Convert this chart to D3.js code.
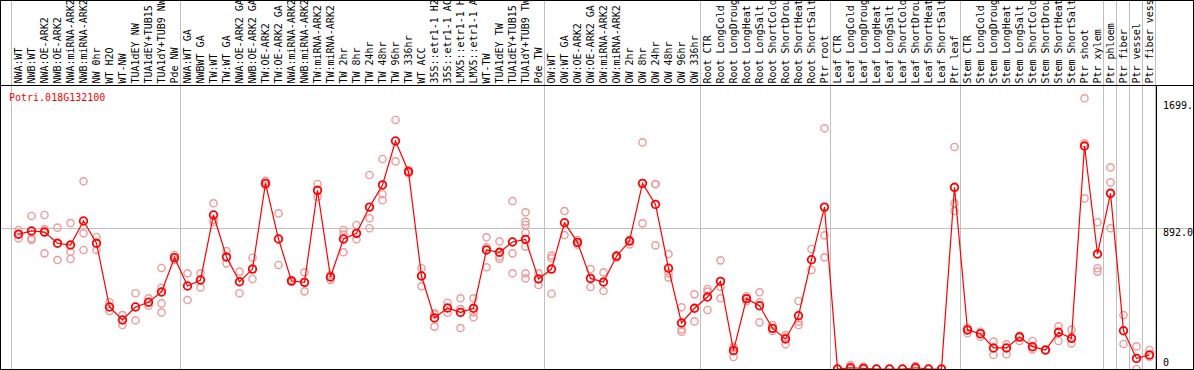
<!DOCTYPE html>
<html>
<head>
<meta charset="utf-8">
<script src="https://cdn.jsdelivr.net/npm/d3@7"></script>
<style>
  body { margin: 0; background: #fff; }
  svg { display: block; }
</style>
</head>
<body>
<svg id="chart"></svg>
<script>
const geneName = 'Potri.018G132100';

const samples = [
    'NWA:WT', 'NWB:WT', 'NWA:OE-ARK2', 'NWB:OE-ARK2', 'NWA:miRNA-ARK2', 'NWB:miRNA-ARK2',
    'NW 0hr', 'WT H2O', 'WT-NW', 'TUA1dEY NW', 'TUA1dEY+TUB15', 'TUA1dY+TUB9 NW', 'Pde NW',
    'NWA:WT GA', 'NWBWT GA', 'TW:WT', 'TW:WT GA', 'NWA:OE-ARK2 GA', 'NWB:OE-ARK2 GA',
    'TW:OE-ARK2', 'TW:OE-ARK2 GA', 'NWA:miRNA-ARK2', 'NWB:miRNA-ARK2', 'TW:miRNA-ARK2',
    'TW:miRNA-ARK2', 'TW 2hr', 'TW 8hr', 'TW 24hr', 'TW 48hr', 'TW 96hr', 'TW 336hr',
    'WT ACC', '35S::etr1-1 H2O', '35S::etr1-1 ACC', 'LMX5::etr1-1 H2O', 'LMX5::etr1-1 ACC',
    'WT-TW', 'TUA1dEY TW', 'TUA1dEY+TUB15 TW', 'TUA1dY+TUB9 TW', 'Pde TW',
    'OW:WT', 'OW:WT GA', 'OW:OE-ARK2', 'OW:OE-ARK2 GA', 'OW:miRNA-ARK2', 'OW:miRNA-ARK2',
    'OW 2hr', 'OW 8hr', 'OW 24hr', 'OW 48hr', 'OW 96hr', 'OW 336hr',
    'Root CTR', 'Root LongCold', 'Root LongDrought', 'Root LongHeat', 'Root LongSalt',
    'Root ShortCold', 'Root ShortDrought', 'Root ShortHeat', 'Root ShortSalt', 'Ptr root',
    'Leaf CTR', 'Leaf LongCold', 'Leaf LongDrought', 'Leaf LongHeat', 'Leaf LongSalt',
    'Leaf ShortCold', 'Leaf ShortDrought', 'Leaf ShortHeat', 'Leaf ShortSalt', 'Ptr leaf',
    'Stem CTR', 'Stem LongCold', 'Stem LongDrought', 'Stem LongHeat', 'Stem LongSalt',
    'Stem ShortCold', 'Stem ShortDrought', 'Stem ShortHeat', 'Stem ShortSalt', 'Ptr shoot',
    'Ptr xylem', 'Ptr phloem', 'Ptr fiber', 'Ptr vessel', 'Ptr fiber vessel'
];

// first sample index of each group
const groupStarts = [0, 13, 41, 53, 63, 73, 84, 85, 86, 87, 88];

const means = [
    852, 873, 866, 795, 784, 936, 795, 392, 310, 392, 422, 487, 704,
    525, 563, 974, 708, 552, 632, 1174, 822, 557, 548, 1130, 582, 822, 858, 1024, 1164, 1442,
    1248, 588, 323, 386, 358, 384, 753, 738, 803, 820, 569,
    632, 925, 801, 573, 550, 713, 809, 1174, 1041, 637, 291, 384,
    455, 554, 116, 445, 400, 257, 190, 337, 691, 1024,
    0, 8, 4, 0, 0, 0, 8, 0, 0, 1149,
    247, 223, 133, 133, 202, 141, 120, 232, 194, 1410, 727,
    1111, 242, 67, 89
];

const replicates = [
    [879, 852, 826], [968, 826, 816], [974, 885, 731], [894, 689], [923, 742, 696],
    [1187, 858, 753], [835, 753], [422, 367], [341, 278], [479, 308], [447, 400],
    [639, 514, 415, 358], [721, 690],
    [605, 436], [605, 516], [1048, 942, 930], [746, 668], [616, 479], [704, 569],
    [1190, 1160], [984, 658], [563, 550], [611, 491], [1170, 1090], [594, 563],
    [879, 850, 738], [911, 820], [1227, 953, 890], [1328, 1105, 1067], [1575, 1313],
    [1258, 1237], [637, 588, 523], [352, 345, 268], [419, 356], [447, 379, 259],
    [447, 358, 327], [833, 769, 643], [807, 710, 696], [1062, 731, 605],
    [991, 932, 911, 862, 774, 605, 573], [605, 531],
    [717, 700, 476], [999, 847], [816, 788], [632, 519], [611, 493], [720, 705],
    [816, 788], [1433, 921], [1168, 1170, 782], [727, 605, 578], [390, 250, 236], [472, 301],
    [506, 489, 373], [687, 519, 447], [141, 131, 76], [460, 447, 428], [485, 422, 295],
    [278, 240], [215, 200, 156], [430, 299, 278], [759, 626], [1522, 845, 706],
    [0, 0], [25, 0], [15, 0], [0, 0], [0, 0], [0, 0], [19, 3], [0, 0], [0, 0],
    [1404, 1048, 999],
    [261, 247, 226], [236, 204], [173, 89], [156, 93], [211, 177], [177, 124], [120, 118],
    [270, 177], [249, 162], [1712, 1427, 1079], [928, 637, 616],
    [1275, 1180, 890], [341, 158], [143, 0], [120, 78]
];

const yTicks = [0, 892, 1699.6];
const yTickLabels = ['0', '892.0', '1699.6'];

const width = 1194;
const height = 370;
const headerBottom = 85;
const plotLeft = 12;
const plotRight = 1156;
const plotBottom = 369;
const font = '"DejaVu Sans Mono", monospace';

const svg = d3.select('#chart')
    .attr('width', width)
    .attr('height', height);

const x = d3.scaleBand()
    .domain(d3.range(samples.length))
    .range([plotLeft, plotRight]);

const y = d3.scaleLinear()
    .domain([0, 1796])
    .range([plotBottom, headerBottom]);

const cx = i => x(i) + x.bandwidth() / 2;

// grid line at the middle tick
svg.append('line')
    .attr('x1', 1).attr('x2', width - 1)
    .attr('y1', Math.round(y(yTicks[1])) + 0.5)
    .attr('y2', Math.round(y(yTicks[1])) + 0.5)
    .attr('stroke', '#c0c0c0');

// group separators
svg.selectAll('.sep')
    .data(groupStarts)
    .join('line')
    .attr('class', 'sep')
    .attr('x1', d => x(d) !== undefined ? x(d) - 0.5 : plotRight - 0.5)
    .attr('x2', d => x(d) !== undefined ? x(d) - 0.5 : plotRight - 0.5)
    .attr('y1', 0)
    .attr('y2', height)
    .attr('stroke', '#c0c0c0');

// header labels
svg.selectAll('.lab')
    .data(samples)
    .join('text')
    .attr('class', 'lab')
    .attr('transform', (d, i) => `translate(${cx(i) + 3.5}, 83.5) rotate(-90)`)
    .attr('font-family', font)
    .attr('font-size', 10)
    .attr('fill', '#000')
    .text(d => d);

// y labels on the right
svg.selectAll('.ylab')
    .data(yTicks)
    .join('text')
    .attr('class', 'ylab')
    .attr('x', 1163)
    .attr('y', d => Math.min(y(d) + 8.5, 366))
    .attr('font-family', font)
    .attr('font-size', 10)
    .attr('fill', '#000')
    .text((d, i) => yTickLabels[i]);

// replicate points
const reps = [];
replicates.forEach((vals, i) => vals.forEach(v => reps.push({ i: i, v: v })));

svg.append('g')
    .selectAll('circle')
    .data(reps)
    .join('circle')
    .attr('cx', d => cx(d.i))
    .attr('cy', d => y(d.v))
    .attr('r', 3.6)
    .attr('fill', 'none')
    .attr('stroke', '#ee9a9a')
    .attr('stroke-width', 1.4);

// mean line
const line = d3.line()
    .x((d, i) => cx(i))
    .y(d => y(d));

svg.append('path')
    .attr('d', line(means))
    .attr('fill', 'none')
    .attr('stroke', '#ff0000')
    .attr('stroke-width', 1.2);

svg.append('g')
    .selectAll('circle')
    .data(means)
    .join('circle')
    .attr('cx', (d, i) => cx(i))
    .attr('cy', d => y(d))
    .attr('r', 3.8)
    .attr('fill', 'none')
    .attr('stroke', '#ff0000')
    .attr('stroke-width', 1.8);

// frame
svg.append('line')
    .attr('x1', 0).attr('x2', width)
    .attr('y1', headerBottom + 0.5).attr('y2', headerBottom + 0.5)
    .attr('stroke', '#000');

svg.append('line')
    .attr('x1', plotRight + 0.5).attr('x2', plotRight + 0.5)
    .attr('y1', headerBottom).attr('y2', plotBottom)
    .attr('stroke', '#000');

svg.append('rect')
    .attr('x', 0.5).attr('y', 0.5)
    .attr('width', width - 1).attr('height', plotBottom)
    .attr('fill', 'none')
    .attr('stroke', '#000');

svg.append('text')
    .attr('x', 9)
    .attr('y', 100.5)
    .attr('font-family', font)
    .attr('font-size', 10)
    .attr('fill', '#ff0000')
    .text(geneName);
</script>
</body>
</html>
